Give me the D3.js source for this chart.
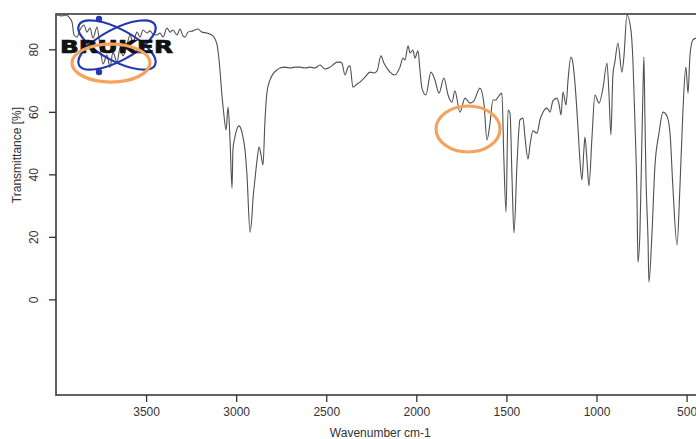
<!DOCTYPE html>
<html>
<head>
<meta charset="utf-8">
<script src="https://cdn.jsdelivr.net/npm/d3@7"></script>
<style>
  html, body { margin: 0; padding: 0; background: #fff; }
  svg { display: block; font-family: "Liberation Sans", Arial, sans-serif; }
</style>
</head>
<body>
<svg id="chart" width="696" height="439"></svg>
<script>
// IR spectrum: wavenumber (cm-1) and transmittance (%)
const wavenumber = [
  3994, 3967, 3944, 3928, 3911, 3900, 3883, 3867, 3845, 3828,
  3811, 3795, 3772, 3756, 3739, 3717, 3700, 3684, 3661, 3645,
  3628, 3606, 3589, 3573, 3550, 3534, 3517, 3495, 3478, 3462,
  3439, 3423, 3406, 3384, 3367, 3351, 3328, 3312, 3295, 3284,
  3267, 3240, 3212, 3190, 3162, 3129, 3106, 3095, 3079, 3068,
  3056, 3045, 3034, 3023, 3018, 3007, 2984, 2973, 2962, 2951,
  2940, 2923, 2912, 2907, 2896, 2884, 2873, 2862, 2851, 2840,
  2829, 2812, 2796, 2773, 2757, 2729, 2701, 2674, 2646, 2618,
  2590, 2563, 2535, 2507, 2479, 2440, 2424, 2413, 2396, 2379,
  2368, 2352, 2329, 2313, 2285, 2257, 2235, 2218, 2196, 2180,
  2163, 2146, 2119, 2091, 2074, 2063, 2046, 2035, 2019, 2008,
  1991, 1980, 1969, 1947, 1919, 1897, 1874, 1847, 1824, 1802,
  1786, 1758, 1730, 1702, 1680, 1647, 1625, 1608, 1591, 1575,
  1558, 1547, 1525, 1514, 1502, 1491, 1480, 1469, 1458, 1441,
  1425, 1408, 1397, 1380, 1369, 1353, 1330, 1314, 1297, 1275,
  1258, 1242, 1219, 1208, 1197, 1186, 1169, 1158, 1142, 1131,
  1120, 1103, 1092, 1081, 1070, 1064, 1053, 1042, 1025, 1009,
  986, 964, 942, 931, 920, 909, 898, 881, 859, 848,
  831, 809, 798, 787, 775, 770, 759, 748, 742, 737,
  731, 725, 714, 709, 692, 676, 653, 631, 609, 592,
  576, 553, 537, 520, 504, 492, 481, 465, 448
];
const transmittance = [
  91.0, 90.7, 91.0, 90.3, 88.7, 84.6, 83.9, 86.2, 87.8, 85.5,
  86.8, 83.6, 87.1, 81.1, 75.3, 78.2, 74.3, 79.1, 75.9, 80.4,
  77.9, 81.4, 84.6, 82.3, 85.5, 83.9, 86.2, 85.2, 85.9, 84.9,
  84.6, 85.2, 83.9, 86.8, 85.5, 86.2, 84.6, 86.5, 84.3, 83.9,
  85.5, 85.9, 86.5, 85.5, 85.2, 84.3, 81.4, 76.6, 65.4, 59.0,
  54.2, 61.5, 51.0, 35.6, 47.8, 51.9, 55.5, 54.5, 51.9, 47.8,
  39.8, 21.5, 27.0, 31.8, 38.2, 44.6, 48.7, 46.2, 43.0, 57.4,
  66.3, 70.2, 72.1, 73.4, 74.0, 74.3, 74.0, 74.3, 74.3, 74.0,
  74.3, 74.0, 75.0, 73.7, 74.3, 75.9, 75.9, 75.6, 71.8, 74.3,
  74.7, 67.9, 68.9, 69.5, 71.1, 72.7, 72.4, 73.1, 77.9, 75.6,
  74.0, 72.7, 71.8, 74.3, 77.2, 76.6, 81.1, 78.8, 79.8, 77.2,
  79.5, 73.4, 67.6, 65.4, 72.7, 70.2, 66.0, 70.8, 65.4, 63.1,
  66.7, 59.9, 64.4, 62.8, 63.5, 67.6, 62.8, 51.0, 56.4, 63.8,
  63.8, 64.7, 66.0, 44.6, 27.9, 60.6, 59.6, 39.1, 21.2, 43.6,
  57.4, 58.0, 51.9, 44.9, 49.4, 53.9, 53.2, 57.4, 59.9, 61.2,
  59.9, 63.5, 64.4, 62.5, 59.0, 66.3, 62.2, 70.2, 77.5, 75.6,
  69.5, 55.1, 44.6, 38.2, 47.8, 51.9, 44.6, 36.3, 51.9, 65.4,
  62.8, 67.6, 75.6, 66.0, 52.6, 71.8, 75.9, 82.0, 72.7, 77.5,
  91.0, 86.2, 76.6, 57.4, 31.8, 11.9, 21.2, 51.0, 67.0, 77.5,
  57.4, 38.2, 19.0, 5.5, 21.2, 42.3, 53.2, 59.9, 58.7, 53.2,
  35.9, 17.4, 35.9, 60.6, 74.3, 66.0, 78.2, 83.0, 83.6
];

// Axis ticks
const xTicks = [3500, 3000, 2500, 2000, 1500, 1000, 500];
const yTicks = [0, 20, 40, 60, 80];

// Highlighted regions (centre wavenumber, centre transmittance)
const highlightWavenumber = [3695, 1713];
const highlightTransmittance = [75.6, 54.5];

const svg = d3.select("#chart");

const plot = { left: 56, right: 704.6, top: 14, bottom: 395 };

const x = d3.scaleLinear().domain([4000, 400]).range([plot.left, plot.right]);
const y = d3.scaleLinear().domain([-30.6, 91.3]).range([plot.bottom, plot.top]);

svg.append("defs").append("clipPath").attr("id", "plot-clip")
  .append("rect")
  .attr("x", plot.left).attr("y", plot.top)
  .attr("width", plot.right - plot.left).attr("height", plot.bottom - plot.top);

// Spectrum trace
const points = wavenumber.map((w, i) => [w, transmittance[i]]);
const line = d3.line()
  .x(d => x(d[0]))
  .y(d => y(d[1]))
  .curve(d3.curveMonotoneX);

svg.append("path")
  .datum(points)
  .attr("clip-path", "url(#plot-clip)")
  .attr("fill", "none")
  .attr("stroke", "#505050")
  .attr("stroke-width", 1.1)
  .attr("stroke-linejoin", "round")
  .attr("d", line);

// Frame
svg.append("rect")
  .attr("x", plot.left).attr("y", plot.top)
  .attr("width", plot.right - plot.left).attr("height", plot.bottom - plot.top)
  .attr("fill", "none")
  .attr("stroke", "#3a3a3a")
  .attr("stroke-width", 1.6);

// Bottom axis
const xAxis = svg.append("g")
  .attr("transform", `translate(0,${plot.bottom})`)
  .call(d3.axisBottom(x).tickValues(xTicks).tickSize(7).tickPadding(5).tickFormat(d3.format("d")));
xAxis.select(".domain").remove();
xAxis.selectAll("line").attr("stroke", "#333").attr("stroke-width", 1.3);
xAxis.selectAll("text").attr("fill", "#333").style("font-size", "12px")
  .style("font-family", "'Liberation Sans', Arial, sans-serif");

// Left axis with rotated labels
const yAxis = svg.append("g")
  .attr("transform", `translate(${plot.left},0)`)
  .call(d3.axisLeft(y).tickValues(yTicks).tickSize(7).tickFormat(d3.format("d")));
yAxis.select(".domain").remove();
yAxis.selectAll("line").attr("stroke", "#333").attr("stroke-width", 1.3);
yAxis.selectAll("text")
  .attr("fill", "#333")
  .style("font-size", "12px")
  .style("font-family", "'Liberation Sans', Arial, sans-serif")
  .attr("transform", "rotate(-90)")
  .attr("x", 0)
  .attr("y", -18.5)
  .attr("dy", 0)
  .attr("text-anchor", "middle");

// Axis titles
svg.append("text")
  .attr("x", (plot.left + plot.right) / 2)
  .attr("y", 437)
  .attr("text-anchor", "middle")
  .attr("fill", "#333")
  .style("font-size", "12px")
  .text("Wavenumber cm-1");

svg.append("text")
  .attr("transform", "translate(21,155) rotate(-90)")
  .attr("text-anchor", "middle")
  .attr("fill", "#333")
  .style("font-size", "12px")
  .text("Transmittance [%]");

// Instrument logo
const logo = svg.append("g").attr("transform", "translate(117,45)");
[28, -28].forEach(a => {
  logo.append("ellipse")
    .attr("rx", 43).attr("ry", 16)
    .attr("transform", `rotate(${a})`)
    .attr("fill", "none")
    .attr("stroke", "#2438b0")
    .attr("stroke-width", 2.2);
});
[[-18, -26], [-18, 27]].forEach(p => {
  logo.append("circle").attr("cx", p[0]).attr("cy", p[1]).attr("r", 3.2).attr("fill", "#2438b0");
});
svg.append("text")
  .attr("x", 60).attr("y", 52.5)
  .attr("textLength", 113)
  .attr("lengthAdjust", "spacingAndGlyphs")
  .attr("fill", "#111")
  .attr("stroke", "#111")
  .attr("stroke-width", 0.7)
  .style("font-family", "'DejaVu Sans', sans-serif")
  .style("font-weight", "bold")
  .style("font-size", "17px")
  .text("BRUKER");

// Highlight rings
const ringSize = [[39, 19], [32, 23]];
highlightWavenumber.forEach((w, i) => {
  svg.append("ellipse")
    .attr("cx", x(w))
    .attr("cy", y(highlightTransmittance[i]))
    .attr("rx", ringSize[i][0])
    .attr("ry", ringSize[i][1])
    .attr("fill", "none")
    .attr("stroke", "#f4a35c")
    .attr("stroke-width", 3.2);
});
</script>
</body>
</html>
